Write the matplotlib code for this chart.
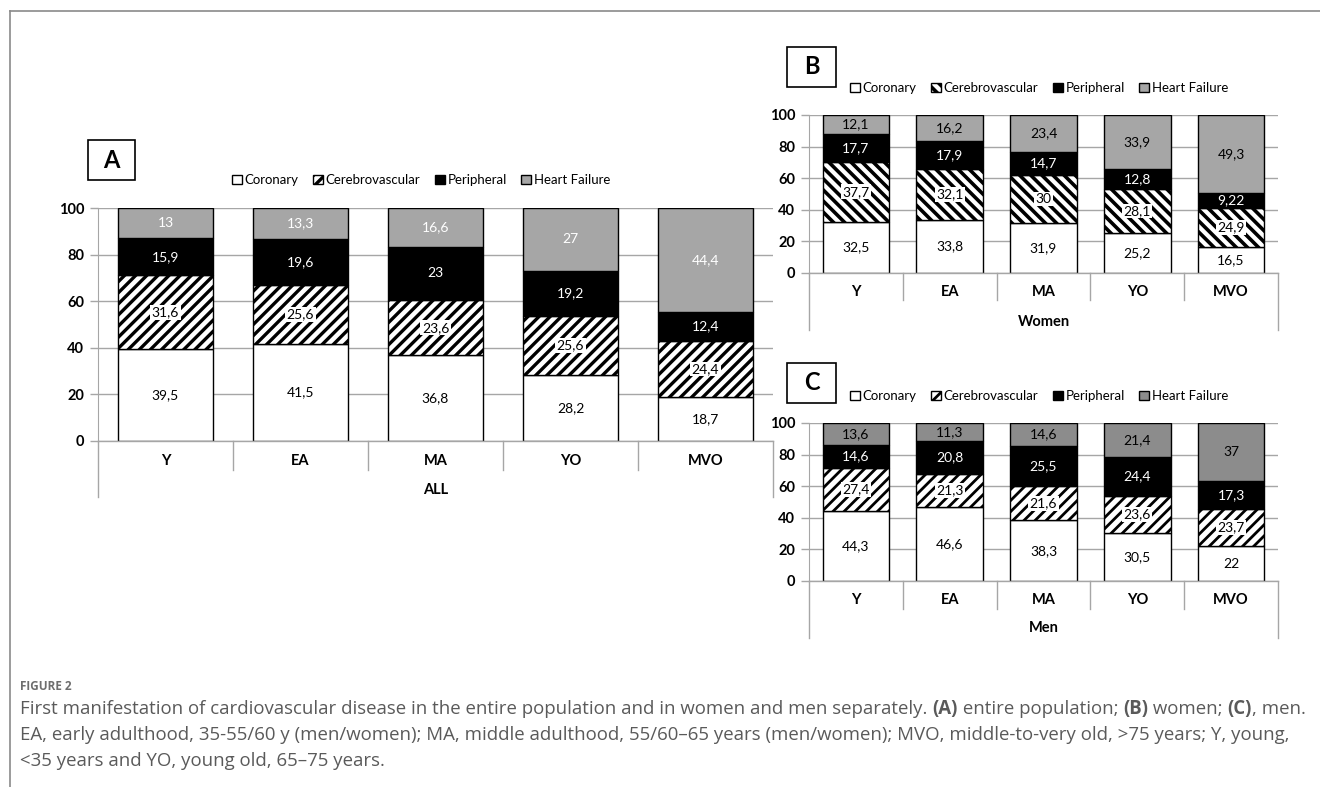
import matplotlib
matplotlib.use("Agg")
import matplotlib.pyplot as plt
from matplotlib.lines import Line2D
from matplotlib.patches import Patch, Rectangle

plt.rcParams["font.family"] = ["Lato", "DejaVu Sans"]

W, H = 1320, 787

categories = ["Y", "EA", "MA", "YO", "MVO"]
series_names = ["Coronary", "Cerebrovascular", "Peripheral", "Heart Failure"]

# Panel A: entire population
all_coronary = [39.5, 41.5, 36.8, 28.2, 18.7]
all_cerebro = [31.6, 25.6, 23.6, 25.6, 24.4]
all_peripheral = [15.9, 19.6, 23, 19.2, 12.4]
all_hf = [13, 13.3, 16.6, 27, 44.4]

# Panel B: women
women_coronary = [32.5, 33.8, 31.9, 25.2, 16.5]
women_cerebro = [37.7, 32.1, 30, 28.1, 24.9]
women_peripheral = [17.7, 17.9, 14.7, 12.8, 9.22]
women_hf = [12.1, 16.2, 23.4, 33.9, 49.3]

# Panel C: men
men_coronary = [44.3, 46.6, 38.3, 30.5, 22]
men_cerebro = [27.4, 21.3, 21.6, 23.6, 23.7]
men_peripheral = [14.6, 20.8, 25.5, 24.4, 17.3]
men_hf = [13.6, 11.3, 14.6, 21.4, 37]

yticks = [0, 20, 40, 60, 80, 100]

caption_title = "FIGURE 2"
# each caption line is a list of (text, bold) runs
caption_lines = [
    [("First manifestation of cardiovascular disease in the entire population and in women and men separately. ", False),
     ("(A)", True), (" entire population; ", False), ("(B)", True), (" women; ", False),
     ("(C)", True), (", men.", False)],
    [("EA, early adulthood, 35-55/60 y (men/women); MA, middle adulthood, 55/60\u201365 years (men/women); MVO, middle-to-very old, >75 years; Y, young,", False)],
    [("<35 years and YO, young old, 65\u201375 years.", False)],
]

fig = plt.figure(figsize=(W / 100, H / 100), dpi=100)


def fx(px):
    return px / W


def fy(py):
    return 1 - py / H


def rect(x0, top, x1, bottom):
    return [fx(x0), fy(bottom), fx(x1) - fx(x0), fy(top) - fy(bottom)]


def fmt(v):
    return f"{v:g}".replace(".", ",")


def fig_line(xs, ys, color="#a6a6a6", lw=1.0):
    fig.add_artist(Line2D([fx(x) for x in xs], [fy(y) for y in ys],
                          color=color, lw=lw, transform=fig.transFigure))


def panel(box, data, hatch, hatch_lw, hf_color, hf_text, group, tag_box,
          legend_pos, cat_y, group_y, div_bottom, outer_bottom):
    x0, top, x1, bottom = box
    ax = fig.add_axes(rect(x0, top, x1, bottom))
    cor, cer, per, hf = data
    x = list(range(len(categories)))
    width = 0.71

    plt.rcParams["hatch.linewidth"] = hatch_lw
    b1 = ax.bar(x, cor, width, color="white", edgecolor="black", lw=1.0, zorder=3)
    b2 = ax.bar(x, cer, width, bottom=cor, color="white", edgecolor="black",
                hatch=hatch, lw=1.0, zorder=3)
    base3 = [a + b for a, b in zip(cor, cer)]
    b3 = ax.bar(x, per, width, bottom=base3, color="black", edgecolor="black",
                lw=1.0, zorder=3)
    base4 = [a + b for a, b in zip(base3, per)]
    b4 = ax.bar(x, hf, width, bottom=base4, color=hf_color, edgecolor="black",
                lw=1.0, zorder=3)

    fs = 10
    ax.bar_label(b1, labels=[fmt(v) for v in cor], label_type="center",
                 fontsize=fs, color="black")
    ax.bar_label(b2, labels=[fmt(v) for v in cer], label_type="center",
                 fontsize=fs, color="black",
                 bbox=dict(boxstyle="square,pad=0.1", fc="white", ec="none"))
    ax.bar_label(b3, labels=[fmt(v) for v in per], label_type="center",
                 fontsize=fs, color="white")
    ax.bar_label(b4, labels=[fmt(v) for v in hf], label_type="center",
                 fontsize=fs, color=hf_text)

    ax.set_xlim(-0.5, len(categories) - 0.5)
    ax.set_ylim(0, 100)
    ax.set_yticks(yticks)
    ax.set_yticklabels([str(t) for t in yticks], fontweight="bold", fontsize=10.5)
    ax.tick_params(axis="y", length=6, color="#a6a6a6", width=1, pad=4)
    ax.grid(axis="y", color="#a6a6a6", lw=1, zorder=0)
    ax.set_xticks([])
    for s in ["top", "right", "bottom"]:
        ax.spines[s].set_visible(False)
    ax.spines["left"].set_color("#a6a6a6")

    # category axis drawn as a two-level table below the plot
    cw = (x1 - x0) / len(categories)
    fig_line([x0, x1], [bottom, bottom])
    for i in range(1, len(categories)):
        xx = x0 + i * cw
        fig_line([xx, xx], [bottom, div_bottom])
    fig_line([x0, x0], [bottom, outer_bottom])
    fig_line([x1, x1], [bottom, outer_bottom])
    for i, c in enumerate(categories):
        fig.text(fx(x0 + (i + 0.5) * cw), fy(cat_y), c, ha="center", va="center",
                 fontsize=10.5, fontweight="bold")
    fig.text(fx((x0 + x1) / 2), fy(group_y), group, ha="center", va="center",
             fontsize=10.5, fontweight="bold")

    # panel tag
    tx0, tt, tx1, tb = tag_box[:4]
    fig.add_artist(Rectangle((fx(tx0), fy(tb)), fx(tx1) - fx(tx0), fy(tt) - fy(tb),
                             fill=False, ec="black", lw=1.2, transform=fig.transFigure))
    fig.text(fx((tx0 + tx1) / 2), fy((tt + tb) / 2), tag_box[4], ha="center",
             va="center", fontsize=17, fontweight="bold")

    # legend
    handles = [
        Patch(fc="white", ec="black", lw=1.0),
        Patch(fc="white", ec="black", hatch=hatch, lw=1.0),
        Patch(fc="black", ec="black", lw=1.0),
        Patch(fc=hf_color, ec="black", lw=1.0),
    ]
    fig.legend(handles, series_names, loc="center left",
               bbox_to_anchor=(fx(legend_pos[0]), fy(legend_pos[1])),
               ncol=4, frameon=False, fontsize=9.5, handlelength=0.75,
               handleheight=0.75, handletextpad=0.2, columnspacing=1.1,
               borderaxespad=0, borderpad=0)
    return ax


panel((98, 208, 773, 441),
      (all_coronary, all_cerebro, all_peripheral, all_hf),
      "///", 2.4, "#a6a6a6", "white", "ALL",
      (88, 140, 135, 180, "A"), (232, 180), 461, 490, 470, 497)

panel((809, 115, 1278, 273),
      (women_coronary, women_cerebro, women_peripheral, women_hf),
      "\\\\\\", 2.6, "#a6a6a6", "black", "Women",
      (787, 47, 836, 87, "B"), (850, 88), 292, 322, 300, 330)

panel((809, 423, 1278, 581),
      (men_coronary, men_cerebro, men_peripheral, men_hf),
      "///", 2.0, "#8c8c8c", "black", "Men",
      (787, 363, 836, 403, "C"), (850, 396), 600, 628, 609, 638)

# outer frame
fig_line([10, W], [11, 11], color="#8a8a8a", lw=1.2)
fig_line([10, 10], [11, H], color="#8a8a8a", lw=1.2)

# caption
cap_family = ["Open Sans", "DejaVu Sans"]
cap_color = "#5a5a5a"
fig.text(fx(20), fy(686), caption_title, ha="left", va="center", fontsize=8.5,
         color="#6e6e6e", fontweight="bold", family=cap_family)
renderer = fig.canvas.get_renderer()


def run_width(text, bold, size):
    t = fig.text(0, 0, text, fontsize=size, family=cap_family,
                 fontweight="bold" if bold else "normal")
    w = t.get_window_extent(renderer).width
    t.remove()
    return w


# size the caption so the widest line fills the text block
widest = max(sum(run_width(t, b, 10) for t, b in runs) for runs in caption_lines)
cap_size = 10 * (1282 / widest)

for i, runs in enumerate(caption_lines):
    xpos = 20.0
    for text, bold in runs:
        fig.text(fx(xpos), fy(709 + i * 26), text, ha="left", va="center",
                 fontsize=cap_size, color=cap_color, family=cap_family,
                 fontweight="bold" if bold else "normal")
        xpos += run_width(text, bold, cap_size)

fig.savefig("out.png", dpi=100, facecolor="white")
